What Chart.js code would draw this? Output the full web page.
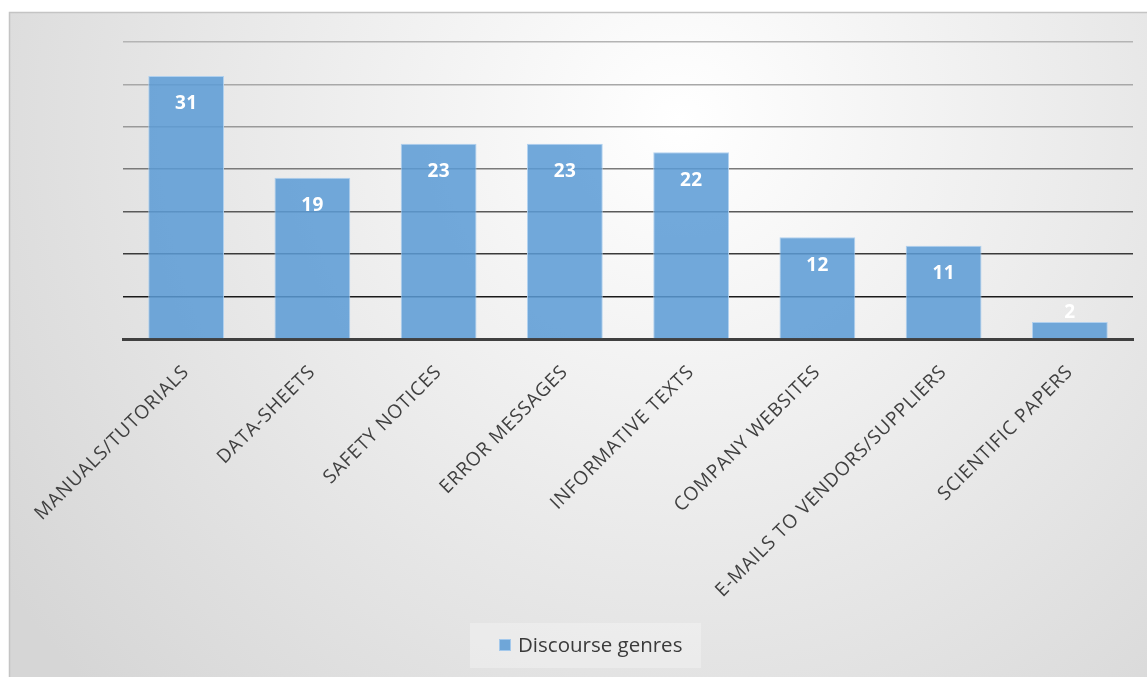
<!DOCTYPE html>
<html>
<head>
<meta charset="utf-8">
<script src="https://cdn.jsdelivr.net/npm/chart.js@4.4.1/dist/chart.umd.min.js"></script>
<style>
html,body{margin:0;padding:0;background:#fff;}
#wrap{width:1147px;height:677px;position:relative;}
</style>
</head>
<body>
<div id="wrap"><canvas id="c" width="1147" height="677"></canvas></div>
<script>
const categories = ["MANUALS/TUTORIALS","DATA-SHEETS","SAFETY NOTICES","ERROR MESSAGES","INFORMATIVE TEXTS","COMPANY WEBSITES","E-MAILS TO VENDORS/SUPPLIERS","SCIENTIFIC PAPERS"];
const seriesName = "Discourse genres";
const values = [31,19,23,23,22,12,11,2];
const yMin = 0, yMax = 35, yStep = 5;

const FONT = "'Open Sans', Lato, sans-serif";

const bgPlugin = {
  id: 'bg',
  beforeUpdate(chart) {
    chart.ctx.letterSpacing = '0.8px';
  },
  beforeDraw(chart) {
    const ctx = chart.ctx;
    ctx.letterSpacing = '0.8px';
    ctx.save();
    ctx.fillStyle = '#ffffff';
    ctx.fillRect(0,0,chart.width,chart.height);
    const g = ctx.createRadialGradient(680,120,0,680,120,820);
    g.addColorStop(0,'#ffffff');
    g.addColorStop(1,'#d6d6d6');
    ctx.fillStyle = g;
    ctx.fillRect(9,12,chart.width-9,chart.height-12);
    ctx.strokeStyle = '#c4c4c4';
    ctx.lineWidth = 1.5;
    ctx.beginPath();
    ctx.moveTo(9.5,chart.height+2);
    ctx.lineTo(9.5,12.5);
    ctx.lineTo(chart.width+2,12.5);
    ctx.stroke();
    // legend box
    ctx.fillStyle = 'rgba(255,255,255,0.28)';
    ctx.fillRect(470,623,231,45);
    ctx.restore();
  },
  afterDraw(chart) {
    const ctx = chart.ctx;
    ctx.save();
    ctx.letterSpacing = '0px';
    const ds = chart.data.datasets[0];
    ctx.font = "20.5px " + FONT;
    const cy = 645;
    const sx = 499;
    ctx.fillStyle = ds.backgroundColor;
    ctx.fillRect(sx, cy-6, 12, 12);
    ctx.strokeStyle = ds.borderColor;
    ctx.lineWidth = 1;
    ctx.strokeRect(sx+0.5, cy-5.5, 11, 11);
    ctx.fillStyle = '#3a3a3a';
    ctx.textBaseline = 'middle';
    ctx.textAlign = 'left';
    ctx.fillText(ds.label, 518, cy+1);
    ctx.restore();
  },
  afterDatasetsDraw(chart) {
    const ctx = chart.ctx;
    const meta = chart.getDatasetMeta(0);
    ctx.save();
    ctx.letterSpacing = '0.3px';
    ctx.font = "bold 19px " + FONT;
    ctx.fillStyle = '#ffffff';
    ctx.textAlign = 'center';
    ctx.textBaseline = 'middle';
    meta.data.forEach((el, i) => {
      const v = chart.data.datasets[0].data[i];
      const h = el.base - el.y;
      const y = h < 40 ? el.y - 9 : el.y + 28;
      ctx.fillText(String(v), el.x, y);
    });
    ctx.restore();
  }
};

const gridColors = {35:'#b4b4b4',30:'#a8a8a8',25:'#999999',20:'#7a7a7a',15:'#5a5a5a',10:'#3a3a3a',5:'#1a1a1a',0:'rgba(0,0,0,0)'};

new Chart(document.getElementById('c'), {
  type: 'bar',
  data: {
    labels: categories,
    datasets: [{
      label: seriesName,
      data: values,
      backgroundColor: 'rgba(91,155,213,0.86)',
      borderColor: 'rgba(170,205,238,0.9)',
      borderWidth: 1,
      barPercentage: 0.6,
      categoryPercentage: 1.0
    }]
  },
  options: {
    responsive: false,
    animation: false,
    devicePixelRatio: 1,
    layout: { padding: { left: 123, right: 14, top: 42, bottom: 0 } },
    plugins: { legend: { display: false }, tooltip: { enabled: false } },
    scales: {
      y: {
        min: yMin, max: yMax,
        ticks: { display: false, stepSize: yStep },
        border: { display: false },
        grid: {
          drawTicks: false,
          lineWidth: 1.6,
          color: (c) => gridColors[c.tick.value] || '#999'
        },
        afterFit(s) { s.width = 0; }
      },
      x: {
        border: { display: true, color: '#404040', width: 3 },
        grid: { display: false, drawTicks: false },
        ticks: {
          color: '#404040',
          font: { family: FONT, size: 19 },
          minRotation: 45, maxRotation: 45,
          autoSkip: false,
          padding: 22
        },
        afterFit(s) { s.height = 677 - 339; }
      }
    }
  },
  plugins: [bgPlugin]
});
</script>
</body>
</html>
